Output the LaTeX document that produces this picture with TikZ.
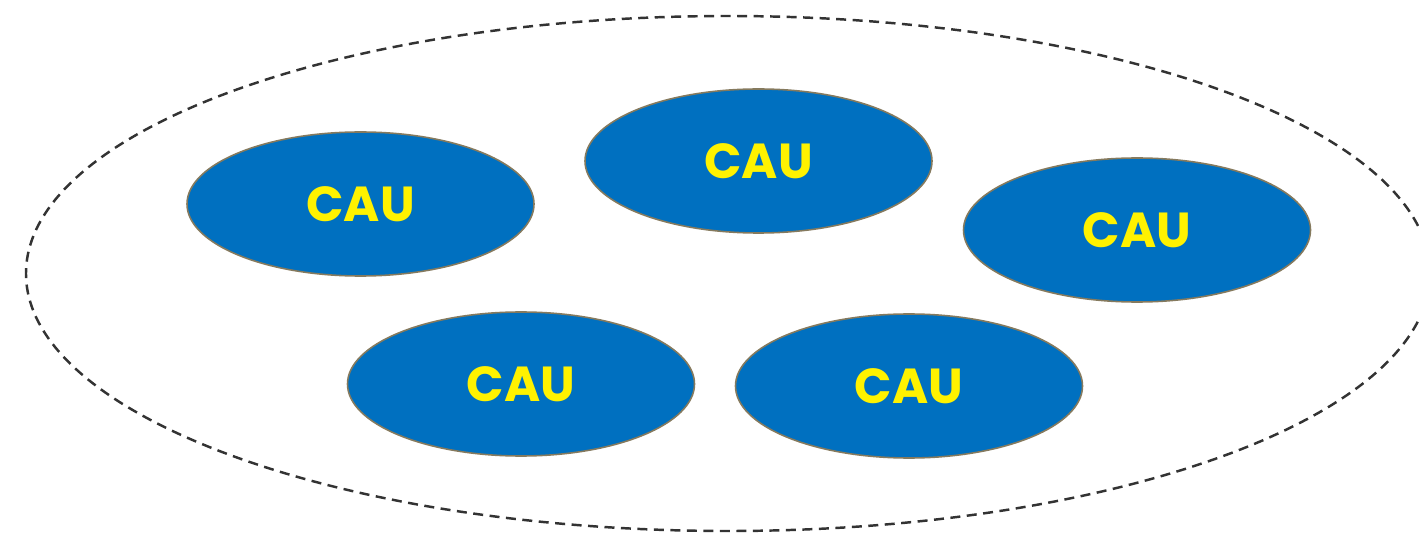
\documentclass[tikz,border=0pt]{standalone}
\usepackage{fontspec}
\newfontfamily\caufont{Poppins}
\usepackage{tikz}
\usetikzlibrary{shapes.geometric}
\definecolor{caublue}{HTML}{0070C0}
\definecolor{cauedge}{HTML}{857A5E}
\definecolor{groupline}{HTML}{333333}

\begin{document}
\begin{tikzpicture}[
    cau/.style={ellipse, draw=cauedge, line width=0.9pt, fill=caublue,
        minimum width=6.94cm, minimum height=2.88cm, inner sep=0pt,
        text=yellow, font=\caufont\bfseries\fontsize{28}{30}\selectfont}
    ]
    \useasboundingbox (0,0) rectangle (28.38,-10.66);

    % dashed group boundary
    \draw[groupline, line width=1.4pt, dash pattern=on 0.2cm off 0.13cm]
        (14.56,-5.47) ellipse [x radius=14.04, y radius=5.15];

    \node (cauA) at (7.21, -4.08) [cau] {CAU};
    \node (cauB) at (15.17, -3.22) [cau] {CAU};
    \node (cauC) at (22.74, -4.60) [cau] {CAU};
    \node (cauD) at (10.42, -7.68) [cau] {CAU};
    \node (cauE) at (18.18, -7.72) [cau] {CAU};

\end{tikzpicture}
\end{document}
